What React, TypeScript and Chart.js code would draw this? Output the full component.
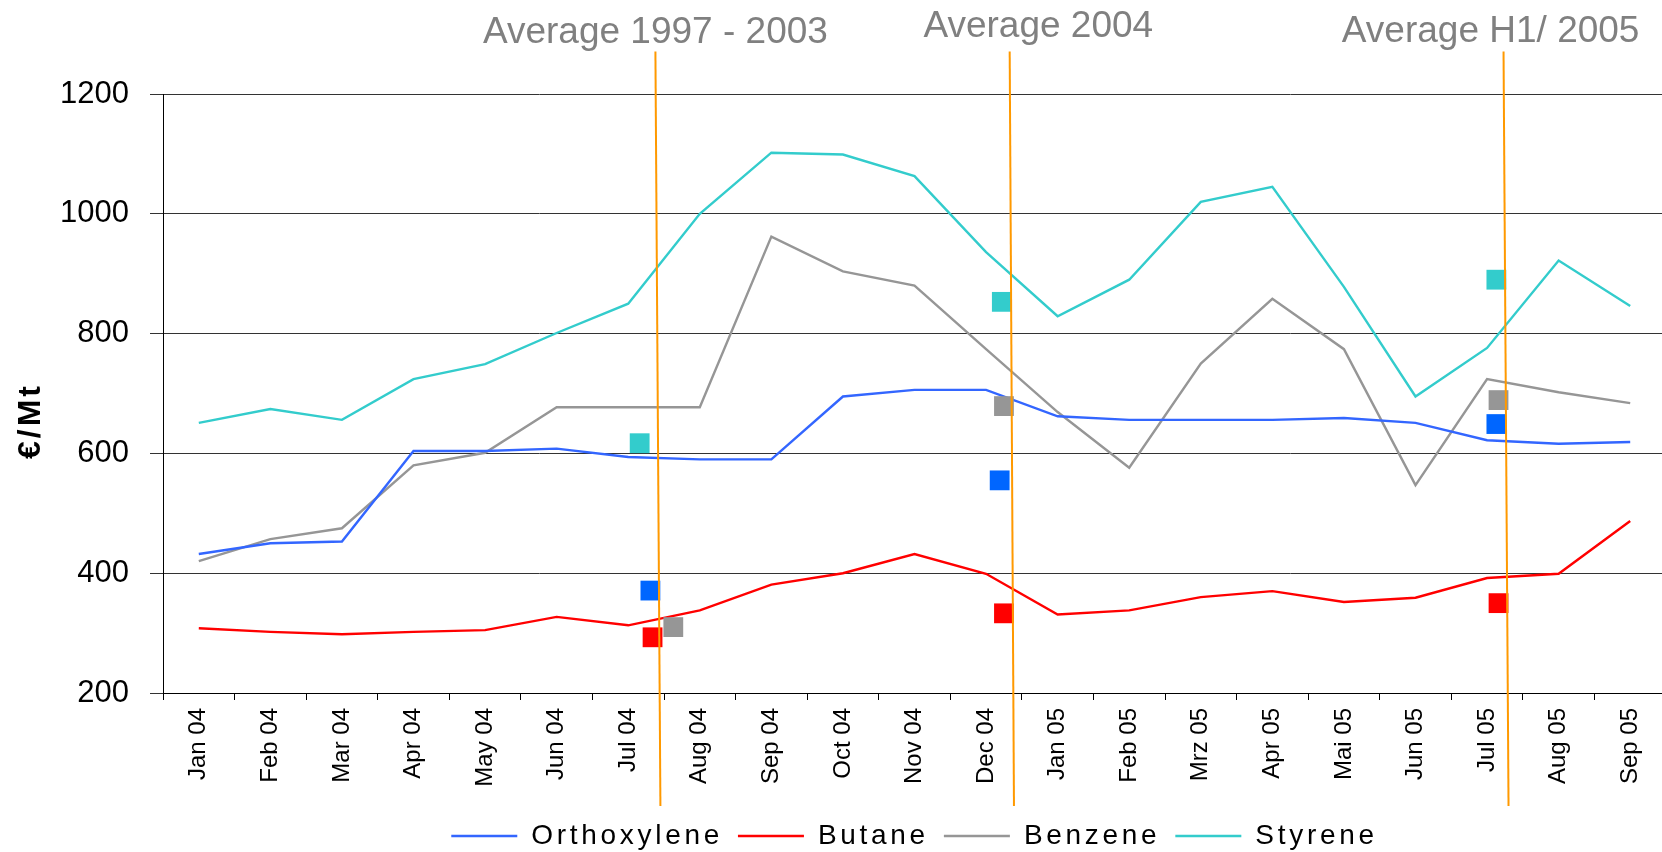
import React, { useEffect, useRef } from 'react';
import { Chart, registerables } from 'chart.js';

Chart.register(...registerables);

// ---------- data ----------
const months = [
  'Jan 04', 'Feb 04', 'Mar 04', 'Apr 04', 'May 04', 'Jun 04', 'Jul 04', 'Aug 04', 'Sep 04', 'Oct 04',
  'Nov 04', 'Dec 04', 'Jan 05', 'Feb 05', 'Mrz 05', 'Apr 05', 'Mai 05', 'Jun 05', 'Jul 05', 'Aug 05', 'Sep 05',
];

const orthoxylene = [432, 450, 453, 604, 604, 608, 594, 590, 590, 695, 706, 706, 662, 656, 656, 656, 659, 651, 622, 616, 619];
const butane = [308, 302, 298, 302, 305, 327, 313, 338, 381, 400, 432, 399, 331, 338, 360, 370, 352, 359, 392, 399, 487];
const benzene = [420, 457, 475, 580, 601, 677, 677, 677, 962, 904, 880, 774, 669, 576, 750, 858, 774, 547, 724, 702, 684];
const styrene = [651, 674, 656, 724, 749, 801, 850, 1000, 1102, 1099, 1063, 936, 829, 890, 1020, 1045, 878, 695, 776, 922, 846];

// averages (1997-2003, 2004, H1/2005)
const averageLabels = ['Average 1997 - 2003', 'Average 2004', 'Average H1/ 2005'];
const avgOrthoxylene = [371, 555, 649];
const avgButane = [293, 333, 350];
const avgBenzene = [310, 679, 689];
const avgStyrene = [617, 853, 890];

// where the average markers / separators sit, in category units
const avgOrthoxyleneAt = [6.31, 11.19, 18.13];
const avgButaneAt = [6.34, 11.25, 18.16];
const avgBenzeneAt = [6.63, 11.25, 18.16];
const avgStyreneAt = [6.16, 11.22, 18.13];
const separatorTopAt = [6.38, 11.33, 18.23];
const separatorBottomAt = [6.45, 11.39, 18.3];
const averageLabelAt = [6.38, 11.73, 18.05];

const yTicks = [200, 400, 600, 800, 1000, 1200];

const FONT = "'Liberation Sans', Arial, Helvetica, sans-serif";

const COLORS = {
  orthoxylene: '#3366FF',
  butane: '#FF0000',
  benzene: '#969696',
  styrene: '#33CCCC',
  orthoxyleneMark: '#0066FF',
  butaneMark: '#FF0000',
  benzeneMark: '#969696',
  styreneMark: '#33CCCC',
};

const overlayPlugin = {
  id: 'overlay',
  beforeLayout(chart: any) {
    chart.ctx.letterSpacing = '3.7px';
  },
  afterLayout(chart: any) {
    chart.ctx.letterSpacing = '0px';
  },
  beforeDraw(chart: any) {
    const ctx = chart.ctx;
    ctx.save();
    ctx.fillStyle = '#ffffff';
    ctx.fillRect(0, 0, chart.width, chart.height);
    ctx.restore();
    ctx.letterSpacing = '3.7px';
  },
  beforeDatasetsDraw(chart: any) {
    chart.ctx.letterSpacing = '0px';
  },
  afterDraw(chart: any) {
    const ctx = chart.ctx;
    const xs = chart.scales.xv;
    const area = chart.chartArea;

    // y-axis title
    ctx.save();
    ctx.translate(31, 421);
    ctx.rotate(-Math.PI / 2);
    ctx.font = `bold 32px ${FONT}`;
    ctx.letterSpacing = '3px';
    ctx.textAlign = 'center';
    ctx.textBaseline = 'middle';
    ctx.fillStyle = '#000';
    ctx.fillText('€/Mt', 0, 0);
    ctx.restore();

    // separators
    ctx.save();
    ctx.strokeStyle = '#FF9900';
    ctx.lineWidth = 2;
    for (let i = 0; i < separatorTopAt.length; i++) {
      ctx.beginPath();
      ctx.moveTo(xs.getPixelForValue(separatorTopAt[i]), area.top - 42.5);
      ctx.lineTo(xs.getPixelForValue(separatorBottomAt[i]), area.bottom + 113);
      ctx.stroke();
    }
    ctx.restore();

    // labels
    ctx.save();
    ctx.font = `37px ${FONT}`;
    ctx.fillStyle = '#808080';
    ctx.textAlign = 'center';
    ctx.textBaseline = 'alphabetic';
    const baseOff = [-51, -57, -52];
    for (let i = 0; i < averageLabels.length; i++) {
      ctx.fillText(averageLabels[i], xs.getPixelForValue(averageLabelAt[i]), area.top + baseOff[i]);
    }
    ctx.restore();
  },
};

function lineSet(label: string, data: number[], color: string) {
  return {
    type: 'line' as const,
    label,
    data,
    xAxisID: 'x',
    yAxisID: 'y',
    borderColor: color,
    backgroundColor: color,
    borderWidth: 2.4,
    pointRadius: 0,
    pointHoverRadius: 0,
    tension: 0,
    fill: false,
    order: 1,
  };
}

function markSet(label: string, at: number[], values: number[], color: string) {
  return {
    type: 'scatter' as const,
    label,
    data: at.map((x, i) => ({ x, y: values[i] })),
    xAxisID: 'xv',
    yAxisID: 'y',
    backgroundColor: color,
    borderColor: color,
    borderWidth: 0,
    pointStyle: 'rect',
    pointRadius: 14,
    pointHoverRadius: 14,
    showLine: false,
    order: 0,
  };
}

export default function App() {
  const ref = useRef<HTMLCanvasElement | null>(null);

  useEffect(() => {
    if (!ref.current) return;
    const chart = new Chart(ref.current, {
      type: 'line',
      data: {
        labels: months,
        datasets: [
          lineSet('Orthoxylene', orthoxylene, COLORS.orthoxylene),
          lineSet('Butane', butane, COLORS.butane),
          lineSet('Benzene', benzene, COLORS.benzene),
          lineSet('Styrene', styrene, COLORS.styrene),
          markSet('Ø Orthoxylene', avgOrthoxyleneAt, avgOrthoxylene, COLORS.orthoxyleneMark),
          markSet('Ø Butane', avgButaneAt, avgButane, COLORS.butaneMark),
          markSet('Ø Benzene', avgBenzeneAt, avgBenzene, COLORS.benzeneMark),
          markSet('Ø Styrene', avgStyreneAt, avgStyrene, COLORS.styreneMark),
        ] as any,
      },
      options: {
        responsive: false,
        devicePixelRatio: 1,
        animation: false,
        layout: { padding: { top: 94, right: 13, bottom: 0, left: 0 } },
        plugins: {
          tooltip: { enabled: false },
          title: { display: false },
          legend: {
            position: 'bottom',
            fullSize: false,
            labels: {
              usePointStyle: true,
              pointStyle: 'line',
              pointStyleWidth: 66,
              padding: 15,
              color: '#000',
              font: { size: 28, family: FONT },
              filter: (item: any) => item.datasetIndex < 4,
            },
          },
        },
        scales: {
          x: {
            type: 'category',
            position: 'bottom',
            offset: true,
            grid: {
              offset: true,
              drawOnChartArea: false,
              drawTicks: true,
              tickLength: 7,
              color: '#000',
              lineWidth: 1,
            },
            border: { color: '#000', width: 1 },
            ticks: {
              autoSkip: false,
              maxRotation: 90,
              minRotation: 90,
              padding: 8,
              color: '#000',
              font: { size: 24, family: FONT },
              z: 1,
            },
            afterFit: (s: any) => {
              s.height = 114;
            },
          },
          xv: {
            type: 'linear',
            display: false,
            min: -0.5,
            max: 20.5,
            offset: false,
          },
          y: {
            type: 'linear',
            position: 'left',
            min: 200,
            max: 1200,
            afterBuildTicks: (s: any) => {
              s.ticks = yTicks.map((v) => ({ value: v }));
            },
            grid: {
              color: '#333333',
              lineWidth: 1,
              drawTicks: true,
              tickLength: 13,
            },
            border: { color: '#000', width: 1 },
            ticks: {
              padding: 21,
              color: '#000',
              font: { size: 31, family: FONT },
              z: 1,
              callback: (v: any) => String(v),
            },
            afterFit: (s: any) => {
              s.width = 163;
            },
          },
        },
      } as any,
      plugins: [overlayPlugin],
    });
    return () => chart.destroy();
  }, []);

  return (
    <div
      style={{
        position: 'fixed',
        left: 0,
        top: 0,
        width: 1662,
        height: 852,
        overflow: 'hidden',
        background: '#fff',
      }}
    >
      <canvas ref={ref} width={1680} height={860} style={{ display: 'block' }} />
    </div>
  );
}
